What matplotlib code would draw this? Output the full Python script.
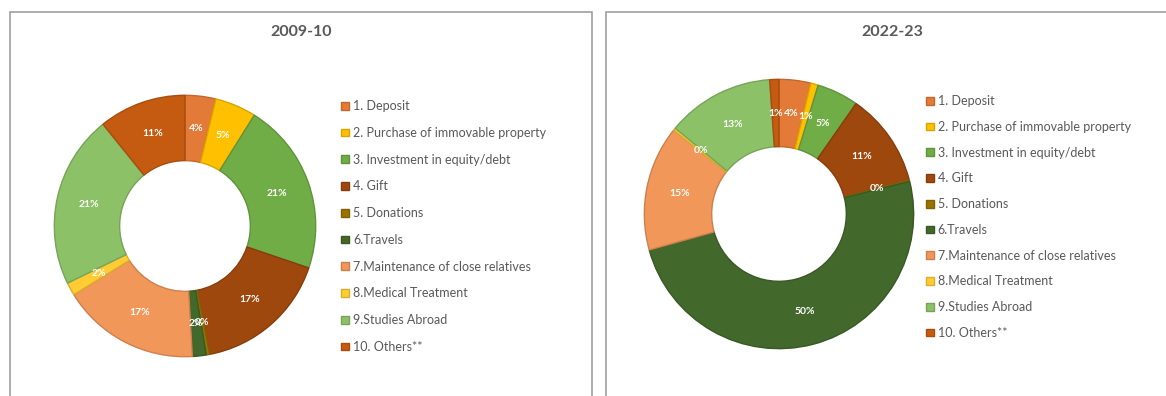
import matplotlib
matplotlib.use("Agg")
import matplotlib.pyplot as plt
from matplotlib.patches import Rectangle
from matplotlib.colors import to_rgb

# purpose-wise shares (%) of outward remittances
categories = ["1. Deposit", "2. Purchase of immovable property", "3. Investment in equity/debt",
              "4. Gift", "5. Donations", "6.Travels", "7.Maintenance of close relatives",
              "8.Medical Treatment", "9.Studies Abroad", "10. Others**"]
share_2009 = [3.8, 5.1, 21.3, 16.8, 0.4, 1.7, 17.1, 1.6, 21.4, 10.8]
share_2022 = [3.8, 0.9, 5.0, 11.2, 0.2, 49.6, 15.0, 0.3, 12.9, 1.1]
colors = ["#E47A37", "#FFC000", "#70AD47", "#9E480E", "#997300",
          "#43682B", "#F1975A", "#FFCD33", "#8CC168", "#C55A11"]

W, H = 1166, 396
fig = plt.figure(figsize=(W / 100, H / 100), dpi=100)
plt.rcParams["font.family"] = ["Lato", "DejaVu Sans"]
grey = "#595959"

def darker(c, f=0.85):
    return tuple(v * f for v in to_rgb(c))

def panel(x0, x1):
    # chart area frame, runs off the bottom (and right) edge
    fig.patches.append(Rectangle((x0 / W, -0.1), (x1 - x0) / W, 1 - 12 / H + 0.1,
                                 transform=fig.transFigure, fill=False,
                                 edgecolor="#a0a0a0", linewidth=1.2))

def donut(cx, cy, r, vals, title, tx, leg_x, leg_y, spacing):
    ax = fig.add_axes([(cx - r) / W, (H - cy - r) / H, 2 * r / W, 2 * r / H])
    wedges, _, pcts = ax.pie(vals, colors=colors, startangle=90, counterclock=False,
                             wedgeprops=dict(width=0.5, linewidth=1.0),
                             autopct=lambda p: f"{p:.0f}%", pctdistance=0.75,
                             textprops=dict(color="white", fontsize=7.5, fontweight="bold"))
    for w, c in zip(wedges, colors):
        w.set_edgecolor(darker(c))
    ax.set_xlim(-1.01, 1.01)
    ax.set_ylim(-1.01, 1.01)
    fig.text(tx / W, 1 - 32 / H, title, ha="center", va="center",
             fontsize=11.5, fontweight="bold", color=grey)
    fig.legend(wedges, categories, loc="center left",
               bbox_to_anchor=(leg_x / W, 1 - leg_y / H), bbox_transform=fig.transFigure,
               frameon=False, fontsize=9, labelcolor=grey, borderpad=0, borderaxespad=0,
               handlelength=0.6, handleheight=0.6, handletextpad=0.35,
               labelspacing=spacing)

panel(10, 592)
panel(606, 1200)
donut(185, 226, 132, share_2009, "2009-10", 301, 341, 226.5, 1.18)
donut(779, 214, 136, share_2022, "2022-23", 892, 926, 217.0, 1.1)

fig.savefig("out.png", dpi=100, facecolor="white")
